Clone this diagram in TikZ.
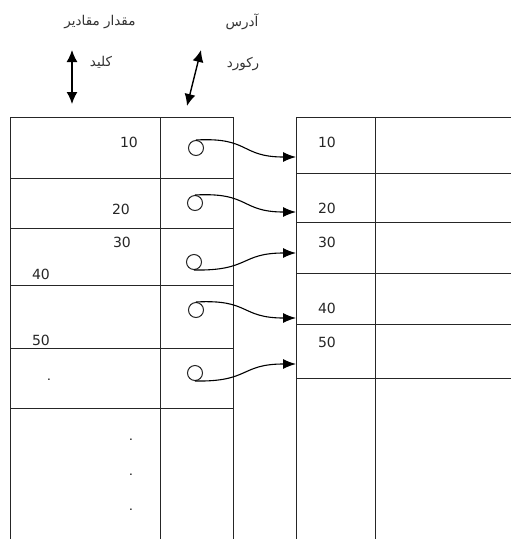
\documentclass[tikz,border=0pt]{standalone}
\usepackage{fontspec}
\setmainfont{DejaVu Sans}
\newfontfamily\arabicfont[Script=Arabic]{DejaVu Sans}
\TeXXeTstate=1
\usetikzlibrary{arrows.meta}
\tikzset{
  grid/.style={draw=black!85, line width=1pt},
  num/.style={font=\fontsize{14}{16}\selectfont, text=black!85, inner sep=0pt},
  lbl/.style={font=\arabicfont\fontsize{13.5}{16}\selectfont, text=black!80, inner sep=0pt},
  ptr/.style={draw=black!85, line width=1pt, circle, minimum size=15pt, inner sep=0pt},
  conn/.style={draw=black, line width=1.1pt, -{Latex[length=13pt,width=10pt]}},
  dbl/.style={draw=black, line width=1.4pt, {Latex[length=12pt,width=11pt]}-{Latex[length=12pt,width=11pt]}},
  dotn/.style={font=\fontsize{12}{14}\selectfont, inner sep=0pt}
}
\begin{document}
\begin{tikzpicture}[x=1pt,y=-1pt]
\useasboundingbox (0,0) rectangle (511,539);
\fill[white] (0,0) rectangle (511,539);
% left table
\draw[grid] (10,539) -- (10,117) -- (233,117) -- (233,539);
\draw[grid] (160,117) -- (160,539);
\foreach \y in {178,228,285,348,408} \draw[grid] (10,\y) -- (233,\y);
% right table
\draw[grid] (511,117) -- (296,117) -- (296,539);
\draw[grid] (375,117) -- (375,539);
\foreach \y in {173,222,273,324,378} \draw[grid] (296,\y) -- (511,\y);
% left numbers
\node[num] (l10) at (129,142) {10};
\node[num] (l20) at (121,209) {20};
\node[num] (l30) at (122,242) {30};
\node[num] (l40) at (41,274) {40};
\node[num] (l50) at (41,340) {50};
\node[dotn] (d0) at (49,380) {.};
\node[dotn] (d1) at (131,440) {.};
\node[dotn] (d2) at (131,475) {.};
\node[dotn] (d3) at (131,510) {.};
% right numbers
\node[num] (r10) at (327,142) {10};
\node[num] (r20) at (327,208) {20};
\node[num] (r30) at (327,242) {30};
\node[num] (r40) at (327,308) {40};
\node[num] (r50) at (327,342) {50};
% pointers
\node[ptr] (c1) at (196,148) {};
\node[ptr] (c2) at (195,203) {};
\node[ptr] (c3) at (194,262) {};
\node[ptr] (c4) at (196,310) {};
\node[ptr] (c5) at (195,373) {};
\coordinate (t1) at (296,157);
\coordinate (t2) at (296,212);
\coordinate (t3) at (296,253);
\coordinate (t4) at (296,318);
\coordinate (t5) at (296,364);
\draw[conn] (c1.north) .. controls (250,137) and (240,157) .. (t1);
\draw[conn] (c2.north) .. controls (250,192) and (240,212) .. (t2);
\draw[conn] (c3.south) .. controls (250,271) and (240,253) .. (t3);
\draw[conn] (c4.north) .. controls (250,299) and (240,318) .. (t4);
\draw[conn] (c5.south) .. controls (250,382) and (240,364) .. (t5);
% header labels
\node[lbl] (h1) at (100,22) {\beginR مقدار مقادیر\endR};
\node[lbl] (h2) at (101,62) {\beginR کلید\endR};
\node[lbl] (h3) at (242,22) {\beginR آدرس\endR};
\node[lbl] (h4) at (243,64) {\beginR رکورد\endR};
\coordinate (a1) at (72,50);
\coordinate (a2) at (72,104);
\coordinate (b1) at (201,50);
\coordinate (b2) at (187,106);
\draw[dbl] (a1) -- (a2);
\draw[dbl] (b1) -- (b2);
\end{tikzpicture}
\end{document}
